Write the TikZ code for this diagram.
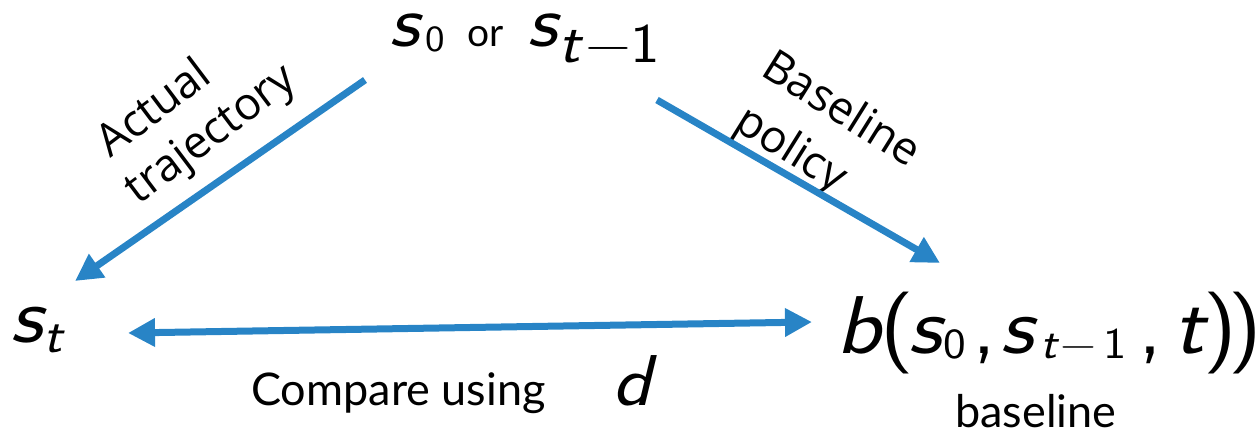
\documentclass[tikz,border=0pt]{standalone}
\usepackage{fontspec}
\setmainfont{Lato}
\newfontfamily\osans{Open Sans}
\usetikzlibrary{arrows.meta}
\definecolor{arrowblue}{RGB}{40,132,198}
% italic / upright sans glyph of size #1 in a box of advance #2 (pt), lowered by #3 pt
\newcommand{\gi}[4]{\makebox[#2pt][l]{\raisebox{-#3pt}{\fontsize{#1}{#1}\selectfont\sffamily\itshape\scalebox{1.12}[1]{#4}}}}
\newcommand{\gu}[4]{\makebox[#2pt][l]{\raisebox{-#3pt}{\fontsize{#1}{#1}\selectfont\sffamily\scalebox{1.12}[1]{#4}}}}
\tikzset{
  conn/.style={draw=arrowblue, line width=7pt, -{Triangle[length=27pt,width=27pt]}},
  conn2/.style={draw=arrowblue, line width=7pt, {Triangle[length=27pt,width=27pt]}-{Triangle[length=27pt,width=27pt]}},
  lbl/.style={inner sep=0pt, font=\osans\fontsize{45}{45}\selectfont},
  txt/.style={inner sep=0pt, font=\fontsize{45}{45}\selectfont},
  mth/.style={inner sep=0pt, anchor=base west}
}
\begin{document}
\begin{tikzpicture}[x=1pt,y=-1pt]
\path[use as bounding box] (0,0) rectangle (1258,433);
% nodes
\node[mth] (top) at (389,47) {\gi{74}{36}{0}{s}\gu{37}{42}{5}{0}\makebox[60pt][l]{\fontsize{39}{39}\selectfont or}\gi{74}{31}{0}{s}\gi{58}{27}{16}{t}\gu{56}{45}{16}{−}\gu{56}{20}{16}{1}};
\node[mth] (st) at (10,342) {\gi{80}{33}{0}{s}\gi{50}{22}{10}{t}};
\node[mth] (b) at (836,353) {\gi{82}{44}{0}{b}\gu{82}{28}{0}{(}\gi{82}{35}{0}{s}\gu{43}{29}{5}{0}\gu{82}{28}{0}{,}\gi{82}{40}{0}{s}\gi{44}{20}{5}{t}\gu{44}{43}{5}{−}\gu{44}{35}{5}{1}\gu{82}{35}{0}{,}\gi{82}{30}{0}{t}\gu{82}{25}{0}{)}\gu{82}{25}{0}{)}};
\node[txt, anchor=base west] (cmp) at (251,405) {Compare using};
\node[mth] (d) at (612,405) {\gi{72}{40}{0}{d}};
\node[txt, anchor=base west] (bl) at (955,427) {baseline};
\node[lbl, rotate=37] (act) at (152,106) {Actual};
\node[lbl, rotate=37] (traj) at (212,136) {trajectory};
\node[lbl, rotate=-32] (bas) at (843,107) {Baseline};
\node[lbl, rotate=-32] (pol) at (790,151) {policy};
% connector end points
\coordinate (a1s) at (365,80);
\coordinate (a1e) at (75,281);
\coordinate (a2s) at (657,100);
\coordinate (a2e) at (940,263);
\coordinate (a3s) at (128,333);
\coordinate (a3e) at (812,322);
\draw[conn] (a1s) -- (a1e);
\draw[conn] (a2s) -- (a2e);
\draw[conn2] (a3s) -- (a3e);
\end{tikzpicture}
\end{document}
